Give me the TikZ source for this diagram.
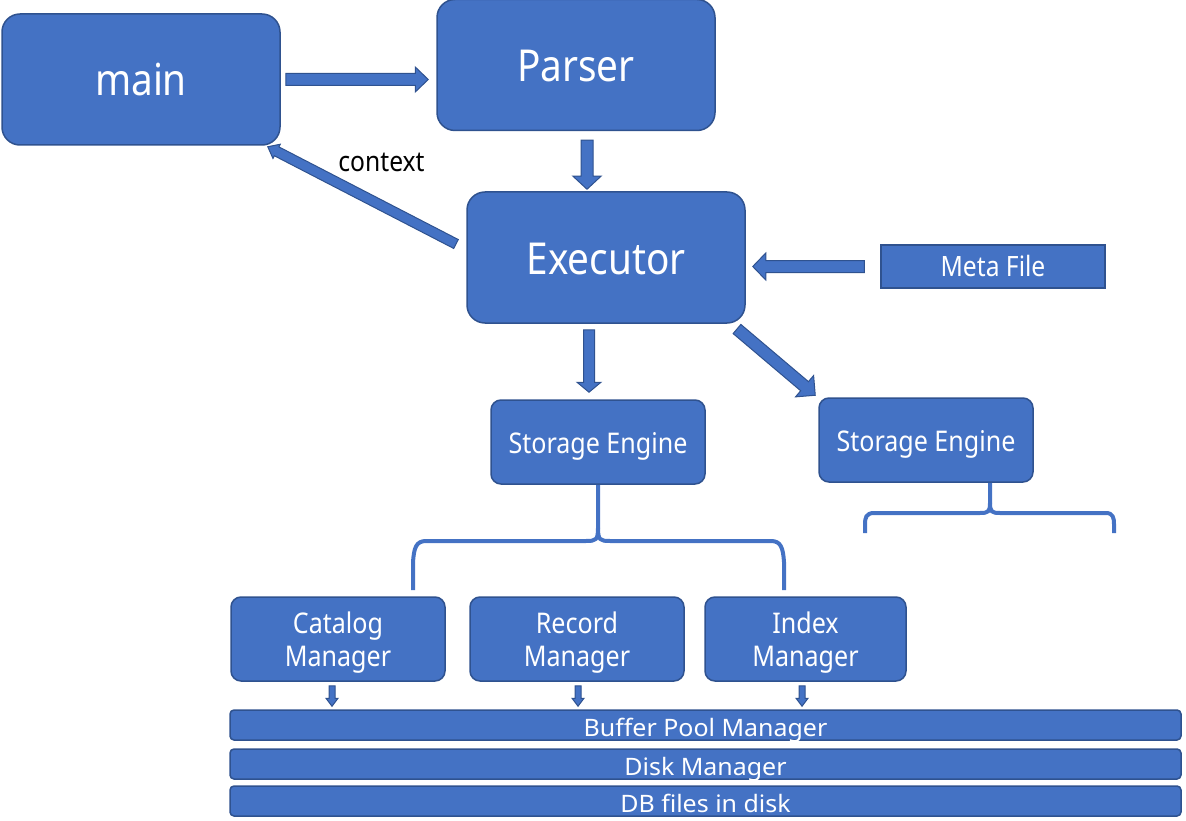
\documentclass[tikz,border=0pt]{standalone}
\usepackage{fontspec}
\setmainfont{Noto Sans}[FakeStretch=0.88]
\newfontfamily\barfont{Noto Sans}[FakeStretch=1.04]
\usetikzlibrary{calc}
\definecolor{boxblue}{RGB}{68,114,196}
\definecolor{boxline}{RGB}{47,82,143}
\tikzset{
  bigbox/.style={draw=boxline, line width=1.5pt, fill=boxblue, rounded corners=18pt, text=white,
    font=\fontsize{44}{48}\selectfont, minimum width=278pt, minimum height=131pt, inner sep=0pt,
    text height=33pt, text depth=0pt},
  midbox/.style={draw=boxline, line width=1.5pt, fill=boxblue, rounded corners=10pt, text=white,
    font=\fontsize{28.5}{33}\selectfont, minimum width=214pt, minimum height=84pt, inner sep=0pt,
    align=center, text depth=0pt},
  bar/.style={draw=boxline, line width=1.5pt, fill=boxblue, rounded corners=4pt, text=white,
    font=\barfont\fontsize{24}{24}\selectfont, minimum width=951pt, minimum height=30pt, inner sep=0pt,
    text height=22pt, text depth=0pt},
  fat/.style={draw=boxline, line width=1pt, fill=boxblue},
  brace/.style={draw=boxblue, line width=4pt},
}
% block arrow: start, tip, shaft half width, head half width, head length
\newcommand{\fatarrow}[5]{%
  \coordinate (fa-h) at ($(#2)!#5!(#1)$);
  \draw[fat] ($(#1)!#3!90:(#2)$) -- ($(fa-h)!#3!90:(#2)$) -- ($(fa-h)!#4!90:(#2)$) -- (#2)
    -- ($(fa-h)!#4!-90:(#2)$) -- ($(fa-h)!#3!-90:(#2)$) -- ($(#1)!#3!-90:(#2)$) -- cycle;
}
\begin{document}
\begin{tikzpicture}[x=1pt,y=-1pt]
\useasboundingbox (0,0) rectangle (1186,821);

% top row
\node[bigbox] (main) at (141,79.5) {main};
\node[bigbox] (parser) at (576,65) {Parser};
\node[bigbox] (executor) at (606,257.5) {Executor};
\node[draw=boxline, line width=1.5pt, fill=boxblue, text=white, font=\fontsize{28}{28}\selectfont,
  minimum width=224pt, minimum height=43pt, inner sep=0pt, text height=20pt, text depth=0pt] (meta) at (993,266.5) {Meta File};
\node[font=\fontsize{28}{28}\selectfont, anchor=base, inner sep=0pt] (ctx) at (381.5,172) {context};

% storage engines
\node[midbox, text height=22pt] (se1) at (598,442) {Storage Engine};
\node[midbox, text height=22pt] (se2) at (926,440) {Storage Engine};

% managers
\node[midbox] (catalog) at (338,639) {Catalog\\Manager};
\node[midbox] (record) at (577,639) {Record\\Manager};
\node[midbox, minimum width=201pt] (index) at (805.5,639) {Index\\Manager};

% bottom layers
\node[bar] (buffer) at (705.5,725) {Buffer Pool Manager};
\node[bar] (disk) at (705.5,764) {Disk Manager};
\node[bar] (dbfiles) at (705.5,801) {DB files in disk};

% arrows
\coordinate (a1s) at ([xshift=5pt]main.east);
\coordinate (a1e) at ([xshift=-8pt]parser.west |- a1s);
\fatarrow{a1s}{a1e}{6pt}{12.5pt}{13pt}
\coordinate (a2s) at ([xshift=11pt,yshift=-9pt]parser.south);
\coordinate (a2e) at ([xshift=-19pt,yshift=2pt]executor.north);
\fatarrow{a2s}{a2e}{6pt}{14pt}{13pt}
\coordinate (a3s) at (456,244);
\coordinate (a3e) at ([xshift=-13pt,yshift=-1pt]main.south east);
\fatarrow{a3s}{a3e}{5pt}{8pt}{10pt}
\coordinate (a4s) at ([xshift=-16pt]meta.west);
\coordinate (a4e) at ([xshift=7pt]executor.east |- a4s);
\fatarrow{a4s}{a4e}{6pt}{13.5pt}{13pt}
\coordinate (a5s) at ([xshift=-17pt,yshift=-6pt]executor.south);
\coordinate (a5e) at ([xshift=-9pt,yshift=7pt]se1.north);
\fatarrow{a5s}{a5e}{5.5pt}{12pt}{10pt}
\coordinate (a6s) at (737,329);
\coordinate (a6e) at ([xshift=-3pt,yshift=2pt]se2.north west);
\fatarrow{a6s}{a6e}{6pt}{14pt}{14pt}
\foreach \m/\dx in {catalog/-6, record/1, index/-3.5}{
  \coordinate (\m-s) at ([xshift=\dx pt,yshift=-4pt]\m.south);
  \coordinate (\m-e) at ([xshift=\dx pt,yshift=3pt]\m.south |- buffer.north);
  \fatarrow{\m-s}{\m-e}{3pt}{6pt}{8pt}
}

% braces
\draw[brace] (se1.south) -- (598,528) .. controls (598,540) and (596,541) .. (586,541) -- (426,541)
  .. controls (416,541) and (414,548) .. (413,562) -- (413,590);
\draw[brace] (598,528) .. controls (598,540) and (600,541) .. (610,541) -- (771,541)
  .. controls (781,541) and (783,548) .. (784,562) -- (784,590);
\draw[brace] ([xshift=64pt]se2.south) -- (990,503) .. controls (990,512) and (988,513) .. (980,513) -- (874,513)
  .. controls (866,513) and (865,518) .. (865,524) -- (865,533);
\draw[brace] (990,503) .. controls (990,512) and (992,513) .. (1000,513) -- (1106,513)
  .. controls (1113,513) and (1114,518) .. (1114,524) -- (1114,533);

\end{tikzpicture}
\end{document}
